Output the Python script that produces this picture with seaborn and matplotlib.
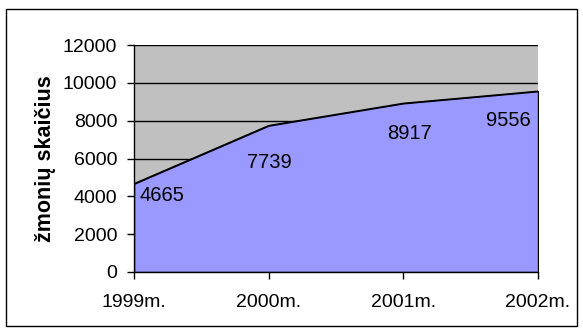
import matplotlib.pyplot as plt
import seaborn as sns
import pandas as pd
from matplotlib.patches import Rectangle

# data
years = ["1999m.", "2000m.", "2001m.", "2002m."]
people = [4665, 7739, 8917, 9556]
# label offsets in pixels (Excel puts the labels inside the area)
label_dx = [6, 1, 6, -30]
label_dy = [-12, -37, -30, -29]

df = pd.DataFrame({"pos": range(len(years)), "people": people})

sns.set_style("white", {"text.color": "black", "xtick.color": "black",
                        "ytick.color": "black", "axes.labelcolor": "black"})
plt.rcParams["font.family"] = ["Liberation Sans", "DejaVu Sans"]

fig = plt.figure(figsize=(5.83, 3.35), dpi=100)
ax = fig.add_axes([134 / 583, 1 - 272 / 335, 404 / 583, 227 / 335])
ax.set_facecolor("#C0C0C0")

ax.fill_between(df["pos"], df["people"], 0, facecolor="#9999FF",
                edgecolor="black", linewidth=1, zorder=2)
sns.lineplot(data=df, x="pos", y="people", color="black", linewidth=1,
             ax=ax, zorder=3)

for i, v in enumerate(people):
    ha = "left" if i == 0 else "center"
    ax.annotate(str(v), (i, v), xytext=(label_dx[i], label_dy[i]),
                textcoords="offset pixels", ha=ha, va="center",
                fontsize=14.5, color="black", zorder=4)

ax.set_xlim(0, 3)
ax.set_ylim(0, 12000)
ax.set_yticks(range(0, 12001, 2000))
ax.set_xticks(range(len(years)))
ax.set_xticklabels(years)
ax.yaxis.grid(True, color="black", linewidth=1)
ax.set_axisbelow(True)
ax.tick_params(axis="both", labelsize=14, length=5, width=1, color="black",
               labelcolor="black", direction="out")
ax.tick_params(left=True, bottom=True)
ax.tick_params(axis="y", pad=7)
ax.tick_params(axis="x", pad=11)
for s in ["top", "right"]:
    ax.spines[s].set_visible(False)
for s in ["left", "bottom"]:
    ax.spines[s].set_color("black")
    ax.spines[s].set_linewidth(1)
ax.set_xlabel("")
ax.set_ylabel("žmonių skaičius", fontsize=15.5, fontweight="bold",
              color="black", labelpad=5)

fig.patches.append(Rectangle((6 / 583, 1 - 326 / 335), 571 / 583, 317 / 335,
                             transform=fig.transFigure, fill=False,
                             edgecolor="black", linewidth=1))

fig.savefig("out.png", dpi=100)
